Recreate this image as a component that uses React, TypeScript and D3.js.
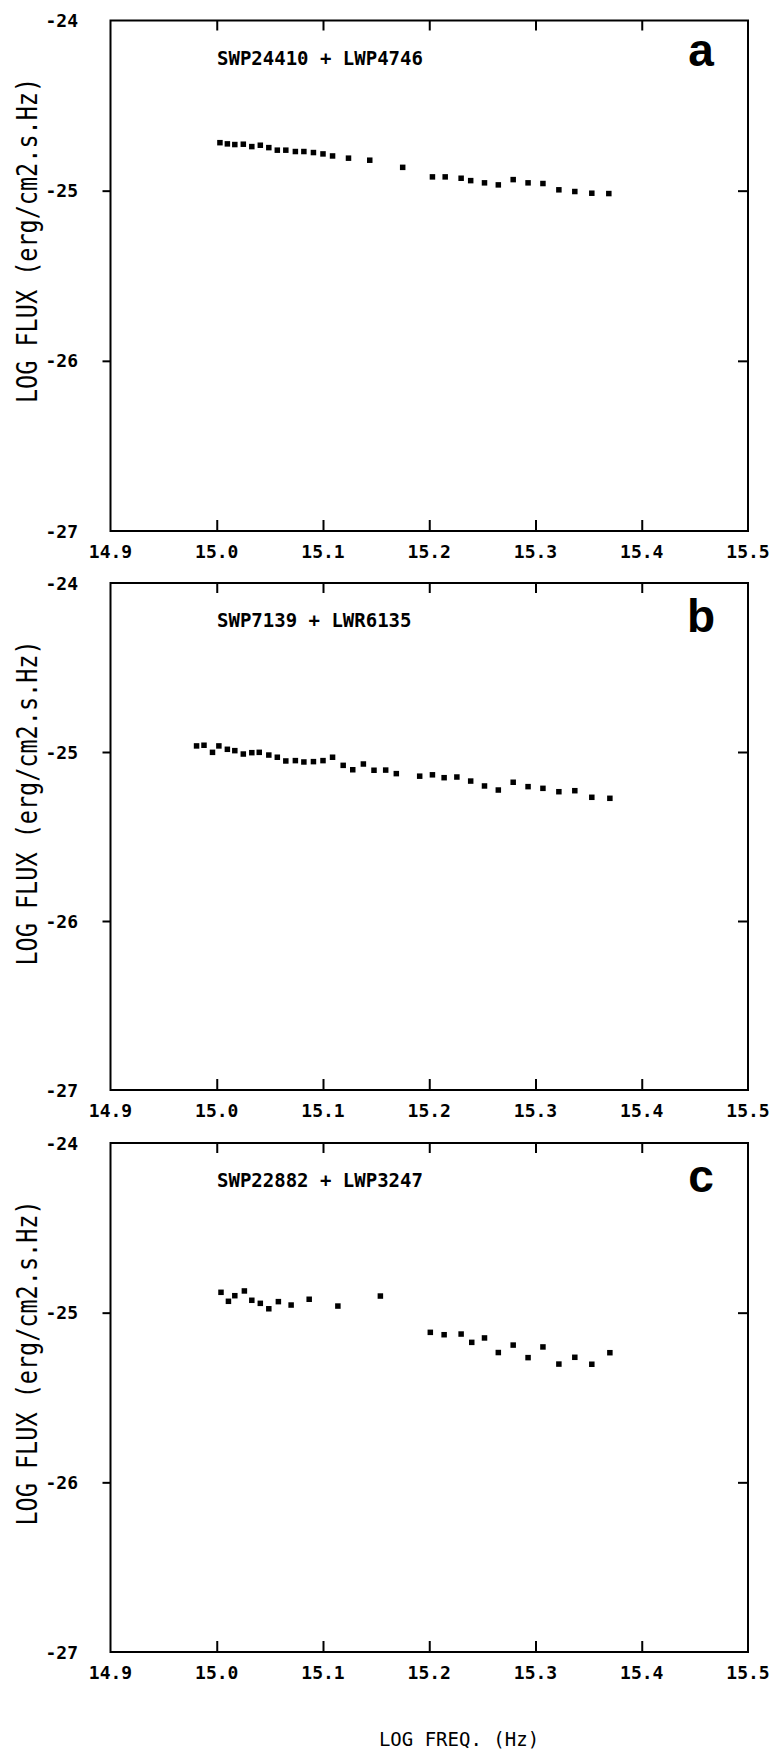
import { useEffect, useRef } from "react";
import * as d3 from "d3";

// axis ticks
const xTicks = [14.9, 15.0, 15.1, 15.2, 15.3, 15.4, 15.5];
const yTicks = [-24, -25, -26, -27];

// panel a : SWP24410 + LWP4746
const freqA = [
  15.003, 15.01, 15.017, 15.025, 15.033, 15.041, 15.049, 15.057, 15.065, 15.074,
  15.082, 15.091, 15.1, 15.109, 15.124, 15.144, 15.175, 15.203, 15.215, 15.23,
  15.239, 15.252, 15.265, 15.279, 15.293, 15.307, 15.322, 15.337, 15.353, 15.369,
];
const fluxA = [
  -24.718, -24.725, -24.729, -24.727, -24.741, -24.733, -24.747, -24.762, -24.762, -24.77,
  -24.77, -24.776, -24.784, -24.796, -24.809, -24.821, -24.863, -24.919, -24.919, -24.927,
  -24.941, -24.954, -24.966, -24.935, -24.954, -24.958, -24.995, -25.005, -25.015, -25.017,
];

// panel b : SWP7139 + LWR6135
const freqB = [
  14.981, 14.988, 14.996, 15.002, 15.01, 15.017, 15.025, 15.033, 15.04, 15.049,
  15.057, 15.065, 15.074, 15.082, 15.091, 15.1, 15.109, 15.119, 15.128, 15.138,
  15.148, 15.159, 15.169, 15.191, 15.203, 15.214, 15.226, 15.239, 15.252, 15.265,
  15.279, 15.293, 15.307, 15.322, 15.337, 15.353, 15.37,
];
const fluxB = [
  -24.964, -24.96, -25.002, -24.964, -24.984, -24.992, -25.012, -25.004, -25.002, -25.018,
  -25.031, -25.053, -25.051, -25.059, -25.057, -25.051, -25.031, -25.079, -25.105, -25.071,
  -25.108, -25.107, -25.128, -25.143, -25.135, -25.152, -25.148, -25.172, -25.201, -25.225,
  -25.179, -25.205, -25.215, -25.235, -25.229, -25.268, -25.274,
];

// panel c : SWP22882 + LWP3247
const freqC = [
  15.004, 15.011, 15.017, 15.026, 15.033, 15.041, 15.049, 15.058, 15.07, 15.087,
  15.114, 15.154, 15.201, 15.214, 15.23, 15.24, 15.252, 15.265, 15.279, 15.293,
  15.307, 15.322, 15.337, 15.353, 15.37,
];
const fluxC = [
  -24.88, -24.933, -24.9, -24.872, -24.927, -24.945, -24.977, -24.935, -24.955, -24.921,
  -24.961, -24.902, -25.116, -25.13, -25.126, -25.175, -25.149, -25.235, -25.191, -25.265,
  -25.202, -25.303, -25.263, -25.304, -25.236,
];

const panelLetters = ["a", "b", "c"];
const panelLabels = ["SWP24410 + LWP4746", "SWP7139 + LWR6135", "SWP22882 + LWP3247"];

const MONO = "'DejaVu Sans Mono', monospace";

export default function App() {
  const svgRef = useRef<SVGSVGElement>(null);

  useEffect(() => {
    const svg = d3.select(svgRef.current);
    svg.selectAll("*").remove();

    const width = 774;
    const height = 1750;
    const left = 110.5;
    const right = 748;

    svg.append("rect").attr("width", width).attr("height", height).attr("fill", "#fff");

    const x = d3.scaleLinear().domain([14.9, 15.5]).range([left, right]);

    const panels = [
      { top: 20.5, bottom: 531, freq: freqA, flux: fluxA, letterDy: 45 },
      { top: 583, bottom: 1090, freq: freqB, flux: fluxB, letterDy: 49 },
      { top: 1143, bottom: 1652, freq: freqC, flux: fluxC, letterDy: 49 },
    ];

    panels.forEach((p, i) => {
      const y = d3.scaleLinear().domain([-24, -27]).range([p.top, p.bottom]);
      const g = svg.append("g");

      // frame
      g.append("rect")
        .attr("x", left)
        .attr("y", p.top)
        .attr("width", right - left)
        .attr("height", p.bottom - p.top)
        .attr("fill", "none")
        .attr("stroke", "#000")
        .attr("stroke-width", 2);

      const inner = xTicks.slice(1, -1);
      const clean = (sel: any) => {
        sel.select(".domain").remove();
        sel.selectAll("text").remove();
        sel.selectAll("line").attr("stroke", "#000").attr("stroke-width", 2);
      };

      // inward ticks top / bottom
      g.append("g")
        .attr("transform", `translate(0,${p.top})`)
        .call(d3.axisBottom(x).tickValues(inner).tickSize(10).tickSizeOuter(0))
        .call(clean);
      g.append("g")
        .attr("transform", `translate(0,${p.bottom})`)
        .call(d3.axisTop(x).tickValues(inner).tickSize(11).tickSizeOuter(0))
        .call(clean);

      // y ticks: outward on left, inward on right
      g.append("g")
        .attr("transform", `translate(${left},0)`)
        .call(d3.axisLeft(y).tickValues([-25, -26]).tickSize(8).tickSizeOuter(0))
        .call(clean);
      g.append("g")
        .attr("transform", `translate(${right},0)`)
        .call(d3.axisLeft(y).tickValues([-25, -26]).tickSize(10).tickSizeOuter(0))
        .call(clean);

      // tick labels
      g.selectAll(".xl")
        .data(xTicks)
        .enter()
        .append("text")
        .attr("x", (d) => x(d))
        .attr("y", p.bottom + 27)
        .attr("text-anchor", "middle")
        .attr("font-family", MONO)
        .attr("font-weight", "bold")
        .attr("font-size", 18)
        .text((d) => d.toFixed(1));

      g.selectAll(".yl")
        .data(yTicks)
        .enter()
        .append("text")
        .attr("x", 78)
        .attr("y", (d) => y(d) + 6.5)
        .attr("text-anchor", "end")
        .attr("font-family", MONO)
        .attr("font-weight", "bold")
        .attr("font-size", 18)
        .text((d) => String(d));

      // y axis title
      g.append("text")
        .attr("transform", `translate(37,${p.top + 220}) rotate(-90) scale(1,1.2)`)
        .attr("text-anchor", "middle")
        .attr("font-family", MONO)
        .attr("font-size", 23.5)
        .text("LOG FLUX (erg/cm2.s.Hz)");

      // spectrum label
      g.append("text")
        .attr("x", 217)
        .attr("y", p.top + 44)
        .attr("font-family", MONO)
        .attr("font-weight", "bold")
        .attr("font-size", 19)
        .text(panelLabels[i]);

      // panel letter
      g.append("text")
        .attr("x", 701)
        .attr("y", p.top + p.letterDy)
        .attr("text-anchor", "middle")
        .attr("font-family", "'Liberation Sans', Arial, sans-serif")
        .attr("font-weight", "bold")
        .attr("font-size", 46)
        .text(panelLetters[i]);

      // data points
      const s = 5.5;
      g.selectAll(".pt")
        .data(p.freq.map((f, k) => [f, p.flux[k]]))
        .enter()
        .append("rect")
        .attr("x", (d) => x(d[0]) - s / 2)
        .attr("y", (d) => y(d[1]) - s / 2)
        .attr("width", s)
        .attr("height", s)
        .attr("fill", "#000");
    });

    // x axis title
    svg.append("text")
      .attr("x", 459)
      .attr("y", 1746)
      .attr("text-anchor", "middle")
      .attr("font-family", MONO)
      .attr("font-size", 19)
      .text("LOG FREQ. (Hz)");
  }, []);

  return (
    <svg
      ref={svgRef}
      width={774}
      height={1750}
      style={{ position: "absolute", left: 0, top: 0, display: "block" }}
    />
  );
}
